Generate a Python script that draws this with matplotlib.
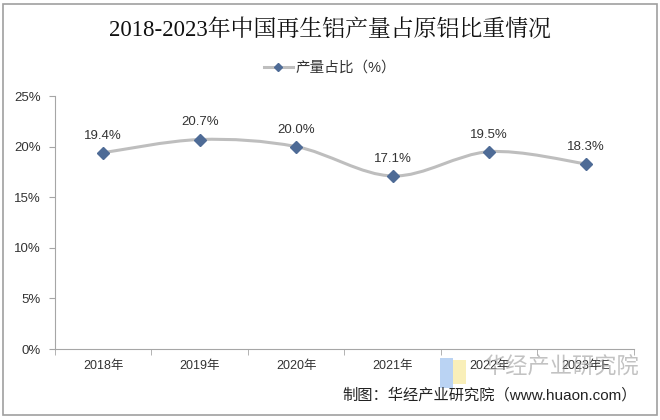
import matplotlib
matplotlib.use("Agg")
import matplotlib.pyplot as plt
from matplotlib.path import Path
from matplotlib.patches import PathPatch, Rectangle
from matplotlib.lines import Line2D

plt.rcParams['font.family'] = ['Liberation Sans', 'Noto Sans CJK SC', 'DejaVu Sans']

# data
years = ["2018年", "2019年", "2020年", "2021年", "2022年", "2023年E"]
share = [19.4, 20.7, 20.0, 17.1, 19.5, 18.3]
labels = ["19.4%", "20.7%", "20.0%", "17.1%", "19.5%", "18.3%"]
yticks = [0, 5, 10, 15, 20, 25]

line_col = "#BEBEBE"
mark_col = "#4E6B96"
text_col = "#333333"

fig = plt.figure(figsize=(6.6, 4.2), dpi=100)
ax = fig.add_axes([0.0833, 0.169, 0.8773, 0.6024])

# smooth line like the spreadsheet "smoothed line" option (bezier through the points)
xs = list(range(len(share)))
pts = list(zip(xs, share))
verts = [pts[0]]
codes = [Path.MOVETO]
for i in range(len(pts) - 1):
    p0 = pts[i - 1] if i > 0 else pts[i]
    p1 = pts[i]
    p2 = pts[i + 1]
    p3 = pts[i + 2] if i + 2 < len(pts) else pts[i + 1]
    c1 = (p1[0] + (p2[0] - p0[0]) / 6, p1[1] + (p2[1] - p0[1]) / 6)
    c2 = (p2[0] - (p3[0] - p1[0]) / 6, p2[1] - (p3[1] - p1[1]) / 6)
    verts += [c1, c2, p2]
    codes += [Path.CURVE4] * 3
ax.add_patch(PathPatch(Path(verts, codes), facecolor="none", edgecolor=line_col, lw=2.2, zorder=2))
ax.plot(xs, share, ls="none", marker="D", ms=6, color=mark_col, zorder=3)

for x, y, t in zip(xs, share, labels):
    ax.annotate(t, (x, y), xytext=(0, 8), textcoords="offset points",
                ha="center", va="bottom", fontsize=9.5, color=text_col)

ax.set_xlim(-0.5, 5.5)
ax.set_ylim(0, 25)
ax.set_yticks(yticks)
ax.set_yticklabels([f"{v}%" for v in yticks], fontsize=9.5, color=text_col)
ax.set_xticks(xs)
ax.set_xticklabels(years, fontsize=9, color=text_col)
ax.set_xticks([i - 0.5 for i in range(len(years) + 1)], minor=True)
ax.tick_params(axis="x", which="major", length=0, pad=8)
ax.tick_params(axis="x", which="minor", length=4, color="#A6A6A6")
ax.tick_params(axis="y", length=4, color="#A6A6A6", pad=6)
for s in ["top", "right"]:
    ax.spines[s].set_visible(False)
for s in ["left", "bottom"]:
    ax.spines[s].set_color("#A6A6A6")

# title and legend
fig.text(0.5, 0.928, "2018-2023年中国再生铝产量占原铝比重情况", ha="center", va="center",
         fontsize=16.5, color="#111111",
         family=['Liberation Serif', 'Noto Serif CJK SC', 'Noto Sans CJK SC'])
leg = [Line2D([], [], color=line_col, lw=2.2, marker="D", ms=4, mfc=mark_col, mec=mark_col)]
fig.legend(leg, ["产量占比（%）"], loc="center", bbox_to_anchor=(0.5, 0.838), frameon=False,
           fontsize=10.5, handlelength=2.0, handletextpad=0.2, labelcolor=text_col)

# watermark (logo blocks + name) and source
fig.patches.append(Rectangle((440 / 660, 1 - 388 / 420), 13 / 660, 30 / 420, transform=fig.transFigure,
                             facecolor="#A9C8F0", edgecolor="none", alpha=0.8, zorder=0))
fig.patches.append(Rectangle((453 / 660, 1 - 384 / 420), 13 / 660, 24 / 420, transform=fig.transFigure,
                             facecolor="#F8EBA8", edgecolor="none", alpha=0.8, zorder=0))
fig.text(0.85, 0.124, "华经产业研究院", ha="center", va="center", fontsize=16,
         color="#9A9A9A", alpha=0.6)
fig.text(0.965, 0.06, "制图：华经产业研究院（www.huaon.com）", ha="right", va="center",
         fontsize=11, color="#222222")

# figure border
fig.patches.append(Rectangle((0.005, 0.012), 0.99, 0.978, transform=fig.transFigure,
                             fill=False, edgecolor="#A0A0A0", lw=1.2))

fig.savefig("out.png", dpi=100, facecolor="white")
